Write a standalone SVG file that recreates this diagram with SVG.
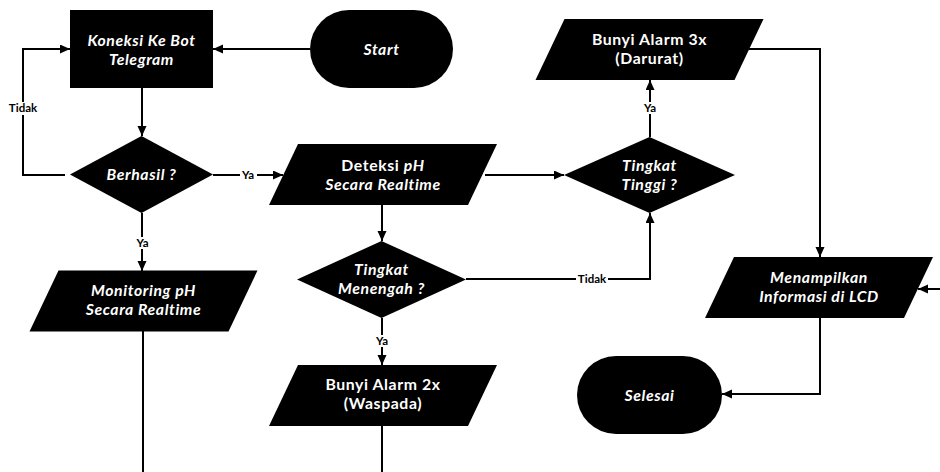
<svg xmlns="http://www.w3.org/2000/svg" width="940" height="472" viewBox="0 0 940 472">
<defs>
<marker id="arr" markerUnits="userSpaceOnUse" markerWidth="10" markerHeight="10" refX="10" refY="4.5" orient="auto">
<path d="M0,0 L10,4.5 L0,9 Z" fill="#000"/>
</marker>
<path id="para" d="M-85,-30.5 H114 L85,30.5 H-114 Z"/>
</defs>
<style>
.shape{fill:#000;}
.t{font-family:Lato,"Open Sans","DejaVu Sans",sans-serif;font-weight:bold;font-size:15.8px;letter-spacing:0.6px;fill:#fff;text-anchor:middle;}
.i{font-style:italic;}
.c{fill:none;stroke:#000;stroke-width:2;}
.a{marker-end:url(#arr);}
.lb{font-family:Lato,"Open Sans","DejaVu Sans",sans-serif;font-weight:bold;font-size:11.5px;fill:#000;text-anchor:middle;}
.bg{fill:#fff;}
</style>
<rect width="940" height="472" fill="#fff"/>
<g id="connectors">
<path class="c a" d="M310,49 H213"/>
<path class="c a" d="M142,88 V136"/>
<path class="c a" d="M65,175 H23 V49 H70"/>
<path class="c a" d="M142,213 V271"/>
<path class="c a" d="M213,175 H283"/>
<path class="c a" d="M485,175 H564"/>
<path class="c a" d="M382,205 V241"/>
<path class="c a" d="M382,318 V365"/>
<path class="c a" d="M466,279 H650 V213"/>
<path class="c a" d="M650,137 V80"/>
<path class="c a" d="M749,49 H820 V257"/>
<path class="c a" d="M820,318 V394 H722"/>
<path class="c a" d="M940,289 H918"/>
<path class="c" d="M143,331 V472"/>
<path class="c" d="M382,426 V472"/>
<rect class="bg" x="7" y="102" width="32" height="13"/>
<text class="lb" x="23" y="112">Tidak</text>
<rect class="bg" x="134" y="237" width="17" height="12"/>
<text class="lb" x="142.5" y="247">Ya</text>
<rect class="bg" x="240" y="169" width="17" height="12"/>
<text class="lb" x="248" y="179">Ya</text>
<rect class="bg" x="374" y="335" width="17" height="12"/>
<text class="lb" x="382" y="345">Ya</text>
<rect class="bg" x="576" y="273" width="32" height="12"/>
<text class="lb" x="592" y="283">Tidak</text>
<rect class="bg" x="642" y="102" width="17" height="12"/>
<text class="lb" x="650" y="112">Ya</text>
</g>
<g id="start">
<rect class="shape" x="310" y="10" width="143" height="78" rx="39"/>
<text class="t i" x="381.5" y="54.5">Start</text>
</g>
<g id="koneksi">
<rect class="shape" x="70" y="10" width="143" height="78"/>
<text class="t i" x="141.5" y="46">Koneksi Ke Bot</text>
<text class="t i" x="141.5" y="65">Telegram</text>
</g>
<g id="berhasil">
<path class="shape" d="M141.5,136 L213,174.5 L141.5,213 L70,174.5 Z"/>
<text class="t i" x="141.5" y="180">Berhasil ?</text>
</g>
<g id="monitoring">
<use href="#para" class="shape" x="143.5" y="301"/>
<text class="t i" x="143.5" y="296">Monitoring pH</text>
<text class="t i" x="143.5" y="315">Secara Realtime</text>
</g>
<g id="deteksi">
<use href="#para" class="shape" x="383" y="174.5"/>
<text class="t" x="383" y="171">Deteksi <tspan class="i">pH</tspan></text>
<text class="t i" x="383" y="190">Secara Realtime</text>
</g>
<g id="menengah">
<path class="shape" d="M381.5,241 L466,279.5 L381.5,318 L297,279.5 Z"/>
<text class="t i" x="381.5" y="275">Tingkat</text>
<text class="t i" x="381.5" y="294">Menengah ?</text>
</g>
<g id="alarm2">
<use href="#para" class="shape" x="383" y="395.5"/>
<text class="t" x="383" y="390">Bunyi Alarm 2x</text>
<text class="t" x="383" y="409">(Waspada)</text>
</g>
<g id="tinggi">
<path class="shape" d="M649.5,137 L735,175 L649.5,213 L564,175 Z"/>
<text class="t i" x="649.5" y="171">Tingkat</text>
<text class="t i" x="649.5" y="190">Tinggi ?</text>
</g>
<g id="alarm3">
<use href="#para" class="shape" x="649.5" y="49.5"/>
<text class="t" x="649.5" y="45">Bunyi Alarm 3x</text>
<text class="t" x="649.5" y="64">(Darurat)</text>
</g>
<g id="lcd">
<use href="#para" class="shape" x="819" y="287.5"/>
<text class="t i" x="819" y="283">Menampilkan</text>
<text class="t i" x="819" y="302">Informasi di LCD</text>
</g>
<g id="selesai">
<rect class="shape" x="577" y="356" width="145" height="78" rx="39"/>
<text class="t i" x="649.5" y="400.5">Selesai</text>
</g>
</svg>
